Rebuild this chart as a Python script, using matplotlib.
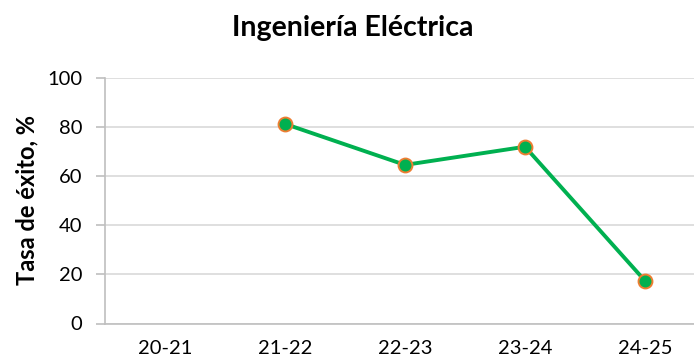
import numpy as np
import matplotlib.pyplot as plt

# success rate per academic year (first year has no data)
cursos = ["20-21", "21-22", "22-23", "23-24", "24-25"]
tasa_exito = [np.nan, 81.3, 64.6, 72.0, 17.4]

plt.rcParams["font.family"] = ["Lato", "DejaVu Sans"]

fig = plt.figure(figsize=(6.94, 3.64), dpi=100)
ax = fig.add_axes([105 / 694, 40.5 / 364, 600 / 694, 245.5 / 364])

x = np.arange(len(cursos))
ax.plot(x, tasa_exito, color="#00b050", lw=2.8, marker="o", ms=10,
        mfc="#00b050", mec="#ed7d31", mew=1.4, zorder=3)

ax.set_xlim(-0.5, len(cursos) - 0.5)
ax.set_ylim(0, 100)
ax.set_yticks(range(0, 101, 20))
ax.set_xticks(x)
ax.set_xticklabels(cursos)

ax.grid(axis="y", color="#d9d9d9", lw=1.2)
ax.set_axisbelow(True)
for side in ("top", "right"):
    ax.spines[side].set_visible(False)
for side in ("left", "bottom"):
    ax.spines[side].set_color("#bfbfbf")
    ax.spines[side].set_linewidth(1.2)

ax.tick_params(axis="x", length=0, pad=12, labelsize=14.5)
ax.tick_params(axis="y", length=6.5, width=1.2, color="#bfbfbf", pad=10,
               labelsize=14.5)

fig.text(353 / 694, 1 - 28 / 364, "Ingeniería Eléctrica", ha="center",
         va="center", fontsize=20.5, fontweight="bold")
fig.text(27 / 694, 1 - 200 / 364, "Tasa de éxito, %", ha="center",
         va="center", rotation=90, fontsize=17, fontweight="bold")

fig.savefig("out.png", dpi=100)
